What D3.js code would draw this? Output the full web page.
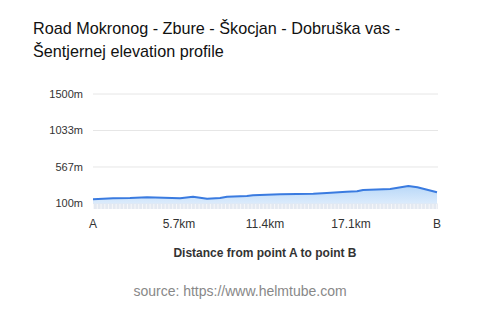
<!DOCTYPE html>
<html><head><meta charset="utf-8">
<script src="https://cdn.jsdelivr.net/npm/d3@7"></script>
<style>body{margin:0;background:#fff;}svg{display:block;font-family:"Liberation Sans",Arial,Helvetica,sans-serif;}</style>
</head><body>
<script>
const titleLines = ["Road Mokronog - Zbure - Škocjan - Dobruška vas -", "Šentjernej elevation profile"];
const distanceKm = [0, 1.33, 2.45, 3.58, 5.77, 6.63, 7.56, 8.42, 8.88, 10.2, 10.6, 12.4, 14.6, 15.5, 16.8, 17.5, 17.9, 19.7, 20.9, 21.5, 22.8];
const elevationM = [154, 167, 170, 179, 167, 187, 161, 170, 187, 196, 205, 218, 225, 234, 251, 256, 273, 285, 324, 307, 243];
const yTicks = [100, 567, 1033, 1500];
const xTicks = [0, 5.7, 11.4, 17.1, 22.8];
const xTickLabels = ["A", "5.7km", "11.4km", "17.1km", "B"];
const xTitle = "Distance from point A to point B";
const sourceText = "source: https://www.helmtube.com";

const W = 480, H = 311;
const svg = d3.select("body").append("svg").attr("width", W).attr("height", H);

const x = d3.scaleLinear().domain([0, 22.8]).range([93, 437]);
const y = d3.scaleLinear().domain([100, 1500]).range([203.5, 94]);
const bottomY = 209;

const defs = svg.append("defs");
const grad = defs.append("linearGradient").attr("id", "fillg").attr("x1", 0).attr("y1", 0).attr("x2", 0).attr("y2", 1);
grad.append("stop").attr("offset", "0%").attr("stop-color", "#b9d8f8");
grad.append("stop").attr("offset", "100%").attr("stop-color", "#e6f1fd");

// title
const t = svg.append("text").attr("x", 33).attr("y", 34).attr("font-size", 16.2).attr("fill", "#111");
titleLines.forEach((l, i) => t.append("tspan").attr("x", 33).attr("y", 34 + i * 23).text(l));

// grid
svg.append("g").selectAll("line").data(yTicks.slice(1)).join("line")
  .attr("x1", 93).attr("x2", 438).attr("y1", d => y(d)).attr("y2", d => y(d))
  .attr("stroke", "#e6e6e6").attr("stroke-width", 1);

svg.append("g").selectAll("text").data(yTicks).join("text")
  .attr("x", 83).attr("y", d => y(d)).attr("dy", "0.35em").attr("text-anchor", "end")
  .attr("font-size", 11).attr("fill", "#333").text(d => d + "m");

// area
const pts = distanceKm.map((d, i) => [d, elevationM[i]]);
svg.append("path").datum(pts)
  .attr("d", d3.area().x(d => x(d[0])).y0(bottomY).y1(d => y(d[1])))
  .attr("fill", "url(#fillg)");

// gray tick band
const band = svg.append("g");
band.append("rect").attr("x", 93).attr("y", 203.5).attr("width", 345).attr("height", bottomY - 203.5)
  .attr("fill", "#e4e8ee").attr("opacity", 0.85);
band.selectAll("line").data(d3.range(0, 22.8, 0.25)).join("line")
  .attr("x1", d => x(d) + 0.5).attr("x2", d => x(d) + 0.5).attr("y1", 204).attr("y2", bottomY)
  .attr("stroke", "#f6f7f9").attr("stroke-width", 1);

svg.append("path").datum(pts)
  .attr("d", d3.line().x(d => x(d[0])).y(d => y(d[1])))
  .attr("fill", "none").attr("stroke", "#3a7be0").attr("stroke-width", 2).attr("stroke-linejoin", "round");

// x labels
svg.append("g").selectAll("text").data(xTicks).join("text")
  .attr("x", d => x(d)).attr("y", 228).attr("text-anchor", "middle")
  .attr("font-size", 12).attr("fill", "#333").text((d, i) => xTickLabels[i]);

svg.append("text").attr("x", 265).attr("y", 257).attr("text-anchor", "middle")
  .attr("font-size", 12).attr("font-weight", "bold").attr("fill", "#333").text(xTitle);

svg.append("text").attr("x", 240).attr("y", 296).attr("text-anchor", "middle")
  .attr("font-size", 14).attr("fill", "#888").text(sourceText);
</script>
</body></html>
